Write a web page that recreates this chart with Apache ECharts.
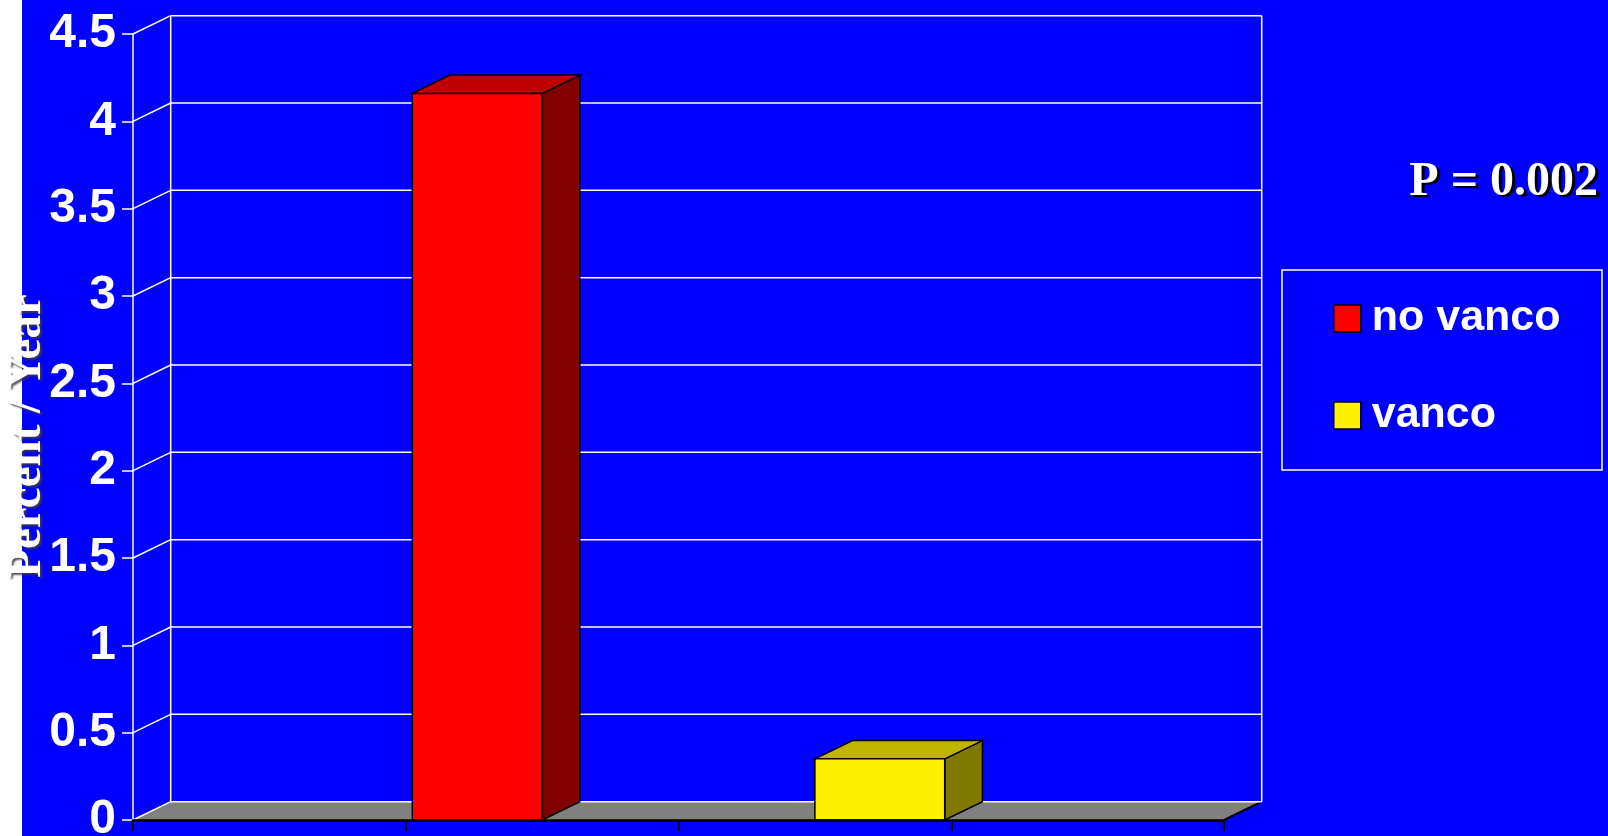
<!DOCTYPE html>
<html>
<head>
<meta charset="utf-8">
<title>Percent / Year</title>
<script src="https://cdn.jsdelivr.net/npm/echarts@6/dist/echarts.min.js"></script>
<style>
  html, body { margin: 0; padding: 0; overflow: hidden; width: 1608px; height: 836px; }
  #chart {
    position: absolute; left: 0; top: 0;
    width: 1608px; height: 836px;
    background: linear-gradient(to right, #ffffff 0, #ffffff 22px, #0000ff 22px, #0000ff 100%);
  }
</style>
</head>
<body>
<div id="chart"></div>
<script>
// Category slots along the floor (outer ones stay empty)
const categories = ['', 'no vanco', 'vanco', ''];
// Series: name, category index, value (percent per year)
const seriesNames = ['no vanco', 'vanco'];
const seriesCategory = [1, 2];
const seriesValues = [4.16, 0.35];
// Value axis ticks
const yTicks = [0, 0.5, 1, 1.5, 2, 2.5, 3, 3.5, 4, 4.5];
const pValueText = 'P = 0.002';
const axisTitle = 'Percent / Year';

// Palette: front, top, side
const faceColors = [
  ['#ff0000', '#bf0000', '#800000'],
  ['#fff200', '#bfb500', '#807900']
];

// Depth offset of the 3D box (pixels)
const DX = 37.7, DY = 18.3;
// Share of each category band left empty at its outer edges
const BAND_GAP = 0.024;

const chart = echarts.init(document.getElementById('chart'), null, {
  renderer: 'canvas', width: 1608, height: 836
});

// Back wall, floor and gridlines, one item per tick
function renderFrame(params, api) {
  const v = api.value(1);
  const cs = params.coordSys;
  const front = api.coord([0, v]);
  const x0 = cs.x, x1 = cs.x + cs.width;
  const y = front[1];
  const children = [];
  const white = { stroke: '#ffffff', lineWidth: 1.5, fill: null };
  if (params.dataIndex === 0) {
    const yTop = api.coord([0, yTicks[yTicks.length - 1]])[1];
    children.push({
      type: 'polygon',
      shape: { points: [[x0, y], [x1, y], [x1 + DX, y - DY], [x0 + DX, y - DY]] },
      style: { fill: '#808080', stroke: null }
    });
    children.push({
      type: 'line',
      shape: { x1: x1, y1: y, x2: x1 + DX, y2: y - DY },
      style: { stroke: '#000000', lineWidth: 2 }
    });
    children.push({
      type: 'line',
      shape: { x1: x0 + DX, y1: yTop - DY, x2: x0 + DX, y2: y - DY },
      style: white
    });
    children.push({
      type: 'line',
      shape: { x1: x1 + DX, y1: yTop - DY, x2: x1 + DX, y2: y - DY },
      style: white
    });
  }
  children.push({
    type: 'line',
    shape: { x1: x0, y1: y, x2: x0 + DX, y2: y - DY },
    style: white
  });
  children.push({
    type: 'line',
    shape: { x1: x0 + DX, y1: y - DY, x2: x1 + DX, y2: y - DY },
    style: white
  });
  return { type: 'group', children: children };
}

// 3D column: front face, top and right side
function makeBarRenderer(slot) {
  return function (params, api) {
    const cat = api.value(0);
    const val = api.value(1);
    const top = api.coord([cat, val]);
    const base = api.coord([cat, 0]);
    const band = api.size([1, 0])[0];
    const w = band * (1 - 2 * BAND_GAP) / 2;
    const L = top[0] - band / 2 + band * BAND_GAP + slot * w;
    const R = L + w;
    const yT = top[1], yB = base[1];
    const col = faceColors[slot];
    const edge = { stroke: '#000000', lineWidth: 1.5, lineJoin: 'miter' };
    return {
      type: 'group',
      children: [
        {
          type: 'polygon',
          shape: { points: [[R, yT], [R + DX, yT - DY], [R + DX, yB - DY], [R, yB]] },
          style: Object.assign({ fill: col[2] }, edge)
        },
        {
          type: 'polygon',
          shape: { points: [[L, yT], [R, yT], [R + DX, yT - DY], [L + DX, yT - DY]] },
          style: Object.assign({ fill: col[1] }, edge)
        },
        {
          type: 'rect',
          shape: { x: L, y: yT, width: R - L, height: yB - yT },
          style: Object.assign({ fill: col[0] }, edge)
        }
      ]
    };
  };
}

const barSeries = seriesNames.map(function (name, i) {
  return {
    name: name,
    type: 'custom',
    z: 3,
    clip: false,
    itemStyle: { color: faceColors[i][0] },
    renderItem: makeBarRenderer(i),
    encode: { x: 0, y: 1 },
    data: [[seriesCategory[i], seriesValues[i]]]
  };
});

const option = {
  backgroundColor: 'transparent',
  animation: false,
  grid: {
    left: 133, right: 384, top: 34, bottom: 16,
    containLabel: false,
    outerBoundsMode: 'none'
  },
  xAxis: {
    type: 'category',
    data: categories,
    boundaryGap: true,
    axisLine: { show: true, lineStyle: { color: '#000000', width: 2.5 } },
    axisTick: { show: true, interval: 0, length: 11, lineStyle: { color: '#000000', width: 2 } },
    axisLabel: { show: false },
    splitLine: { show: false },
    z: 5
  },
  yAxis: {
    type: 'value',
    min: 0,
    max: 4.5,
    interval: 0.5,
    axisLine: { show: true, lineStyle: { color: '#ffffff', width: 1.5 } },
    axisTick: { show: true, length: 11, lineStyle: { color: '#ffffff', width: 1.5 } },
    axisLabel: {
      color: '#ffffff',
      fontFamily: '"Liberation Sans", Arial, sans-serif',
      fontWeight: 'bold',
      fontSize: 48,
      margin: 17,
      padding: [0, 0, 13, 0]
    },
    splitLine: { show: false }
  },
  legend: {
    data: seriesNames,
    orient: 'vertical',
    left: 1333,
    top: 297,
    padding: 0,
    itemWidth: 27,
    itemHeight: 27,
    itemGap: 54,
    icon: 'rect',
    selectedMode: false,
    itemStyle: { borderColor: '#000000', borderWidth: 1.5 },
    textStyle: {
      color: '#ffffff',
      fontFamily: '"Liberation Sans", Arial, sans-serif',
      fontWeight: 'bold',
      fontSize: 43,
      padding: [0, 0, 0, 6]
    }
  },
  graphic: [
    {
      type: 'rect',
      x: 1282,
      y: 270,
      shape: { width: 320, height: 200 },
      style: { fill: null, stroke: '#ffffff', lineWidth: 1.5 },
      z: 1
    },
    {
      type: 'text',
      x: 1598,
      y: 183,
      style: {
        text: pValueText,
        fill: '#ffffff',
        font: 'bold 48px "Liberation Serif", "Times New Roman", serif',
        align: 'right',
        verticalAlign: 'middle',
        textShadowColor: '#000000',
        textShadowOffsetX: 3,
        textShadowOffsetY: 2,
        textShadowBlur: 1
      },
      z: 10
    },
    {
      type: 'text',
      x: 28,
      y: 436,
      rotation: Math.PI / 2,
      style: {
        text: axisTitle,
        fill: '#ffffff',
        font: 'bold 47px "Liberation Serif", "Times New Roman", serif',
        align: 'center',
        verticalAlign: 'middle',
        textShadowColor: 'rgba(60,60,60,0.85)',
        textShadowOffsetX: 2,
        textShadowOffsetY: 2,
        textShadowBlur: 2
      },
      z: 10
    }
  ],
  series: [
    {
      name: 'frame',
      type: 'custom',
      z: 1,
      clip: false,
      silent: true,
      renderItem: renderFrame,
      encode: { x: 0, y: 1 },
      data: yTicks.map(function (t) { return [0, t]; })
    }
  ].concat(barSeries)
};

chart.setOption(option);
</script>
</body>
</html>
